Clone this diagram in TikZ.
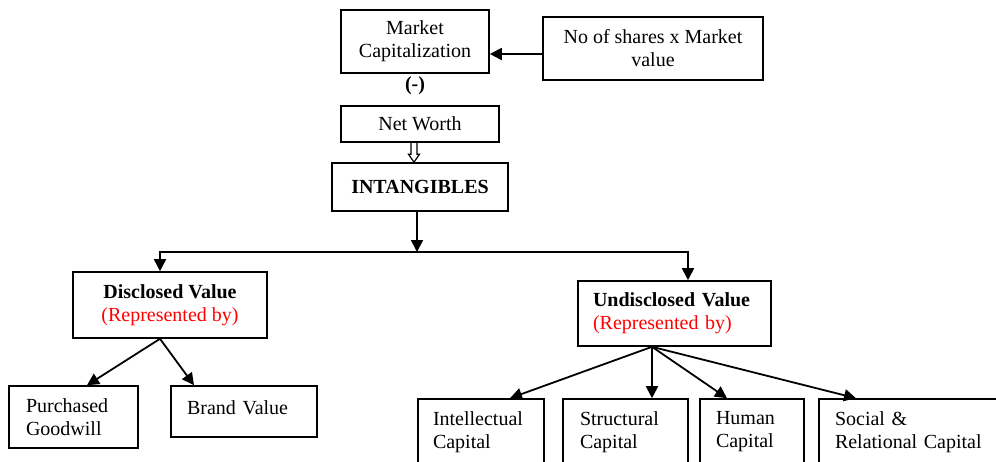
\documentclass[tikz,border=0pt]{standalone}
\usepackage{fontspec}
\setmainfont{Liberation Serif}
\usetikzlibrary{arrows.meta,calc}

\begin{document}
\begin{tikzpicture}
      [x = .5pt, y = -.5pt,
      every node/.style = {font = \fontsize{10}{11.5}\selectfont},
      box/.style = {
         draw,
         line width = .8pt,
         inner sep = 0pt,
         align = center
      },
      lbox/.style = {
         box,
         inner ysep = 0pt,
         align = left
      },
      arr/.style = {
         line width = .9pt,
         -{Triangle[length = 6pt, width = 6pt]}
      },
      hollow/.style = {
         line width = .6pt
      }]

      \useasboundingbox (0, 0) rectangle (996, 461);
      \clip (0, 0) rectangle (996, 461);

      \node[box, minimum width = 74pt, minimum height = 31.5pt] (market) at (415, 41.5) {Market\\Capitalization};
      \node[box, minimum width = 110pt, minimum height = 31.5pt] (shares) at (653, 48.5) {No of shares x Market\\value};
      \node (minus) at (415, 86) {\textbf{(-)}};
      \node[box, minimum width = 79pt, minimum height = 18pt] (nw) at (420, 124) {Net Worth};
      \node[box, minimum width = 88pt, minimum height = 24pt] (intang) at (420, 187) {\textbf{INTANGIBLES}};

      \node[box, minimum width = 97pt, minimum height = 33pt] (disc) at (170, 305)
         {\textbf{Disclosed Value}\\\textcolor{red}{(Represented by)}};
      \node[lbox, text width = 81.5pt, inner xsep = 7.5pt, minimum height = 32.5pt] (undisc) at (674.5, 313.5)
         {\textbf{Undisclosed Value}\\\textcolor{red}{(Represented by)}};

      \node[lbox, text width = 47.5pt, inner xsep = 8.5pt, minimum height = 31pt] (purch) at (73.5, 417) {Purchased\\Goodwill};
      \node[lbox, text width = 57pt, inner xsep = 8pt, minimum height = 25.5pt, text depth = 4pt] (brand) at (244, 411.5) {Brand Value};

      \node[lbox, text width = 48pt, inner xsep = 7.5pt, minimum height = 33pt] (intel) at (481, 432) {Intellectual\\Capital};
      \node[lbox, text width = 45.5pt, inner xsep = 8.5pt, minimum height = 33pt] (struct) at (625.5, 432) {Structural\\Capital};
      \node[lbox, text width = 36pt, inner xsep = 8pt, minimum height = 33pt] (human) at (752, 432) {Human\\Capital};
      \node[lbox, text width = 74pt, inner xsep = 8pt, minimum height = 33pt] (social) at (909, 432) {Social \&\\Relational Capital};

      \coordinate (sharein) at ([yshift = -2.75pt]shares.west);
      \draw[arr] (sharein) -- (sharein -| market.east);

      \coordinate (h1) at ($(nw.south) + (-6, 0)$);
      \coordinate (h2) at (h1 |- intang.north);
      \draw[hollow] ($(h1) + (-3, 0)$) -- ($(h2) + (-3, -8)$) -- ($(h2) + (-5.5, -8)$) -- (h2)
         -- ($(h2) + (5.5, -8)$) -- ($(h2) + (3, -8)$) -- ($(h1) + (3, 0)$);

      \coordinate (split) at (417, 252);
      \draw[arr] (split |- intang.south) -- (split);
      \draw[arr] (split) -| ([xshift = -5pt]disc.north);
      \draw[arr] (split) -| ([xshift = 6.75pt]undisc.north);

      \draw[arr] ([xshift = -5pt]disc.south) -- ([xshift = 6.75pt]purch.north);
      \draw[arr] ([xshift = -5pt]disc.south) -- ([xshift = -25pt]brand.north);

      \draw[arr] ([xshift = -11.25pt]undisc.south) -- ([xshift = 14.5pt]intel.north);
      \draw[arr] ([xshift = -11.25pt]undisc.south) -- ([xshift = 13.25pt]struct.north);
      \draw[arr] ([xshift = -11.25pt]undisc.south) -- ([xshift = -12.5pt]human.north);
      \draw[arr] ([xshift = -11.25pt]undisc.south) -- ([xshift = -26.5pt]social.north);

   \end{tikzpicture}
\end{document}
